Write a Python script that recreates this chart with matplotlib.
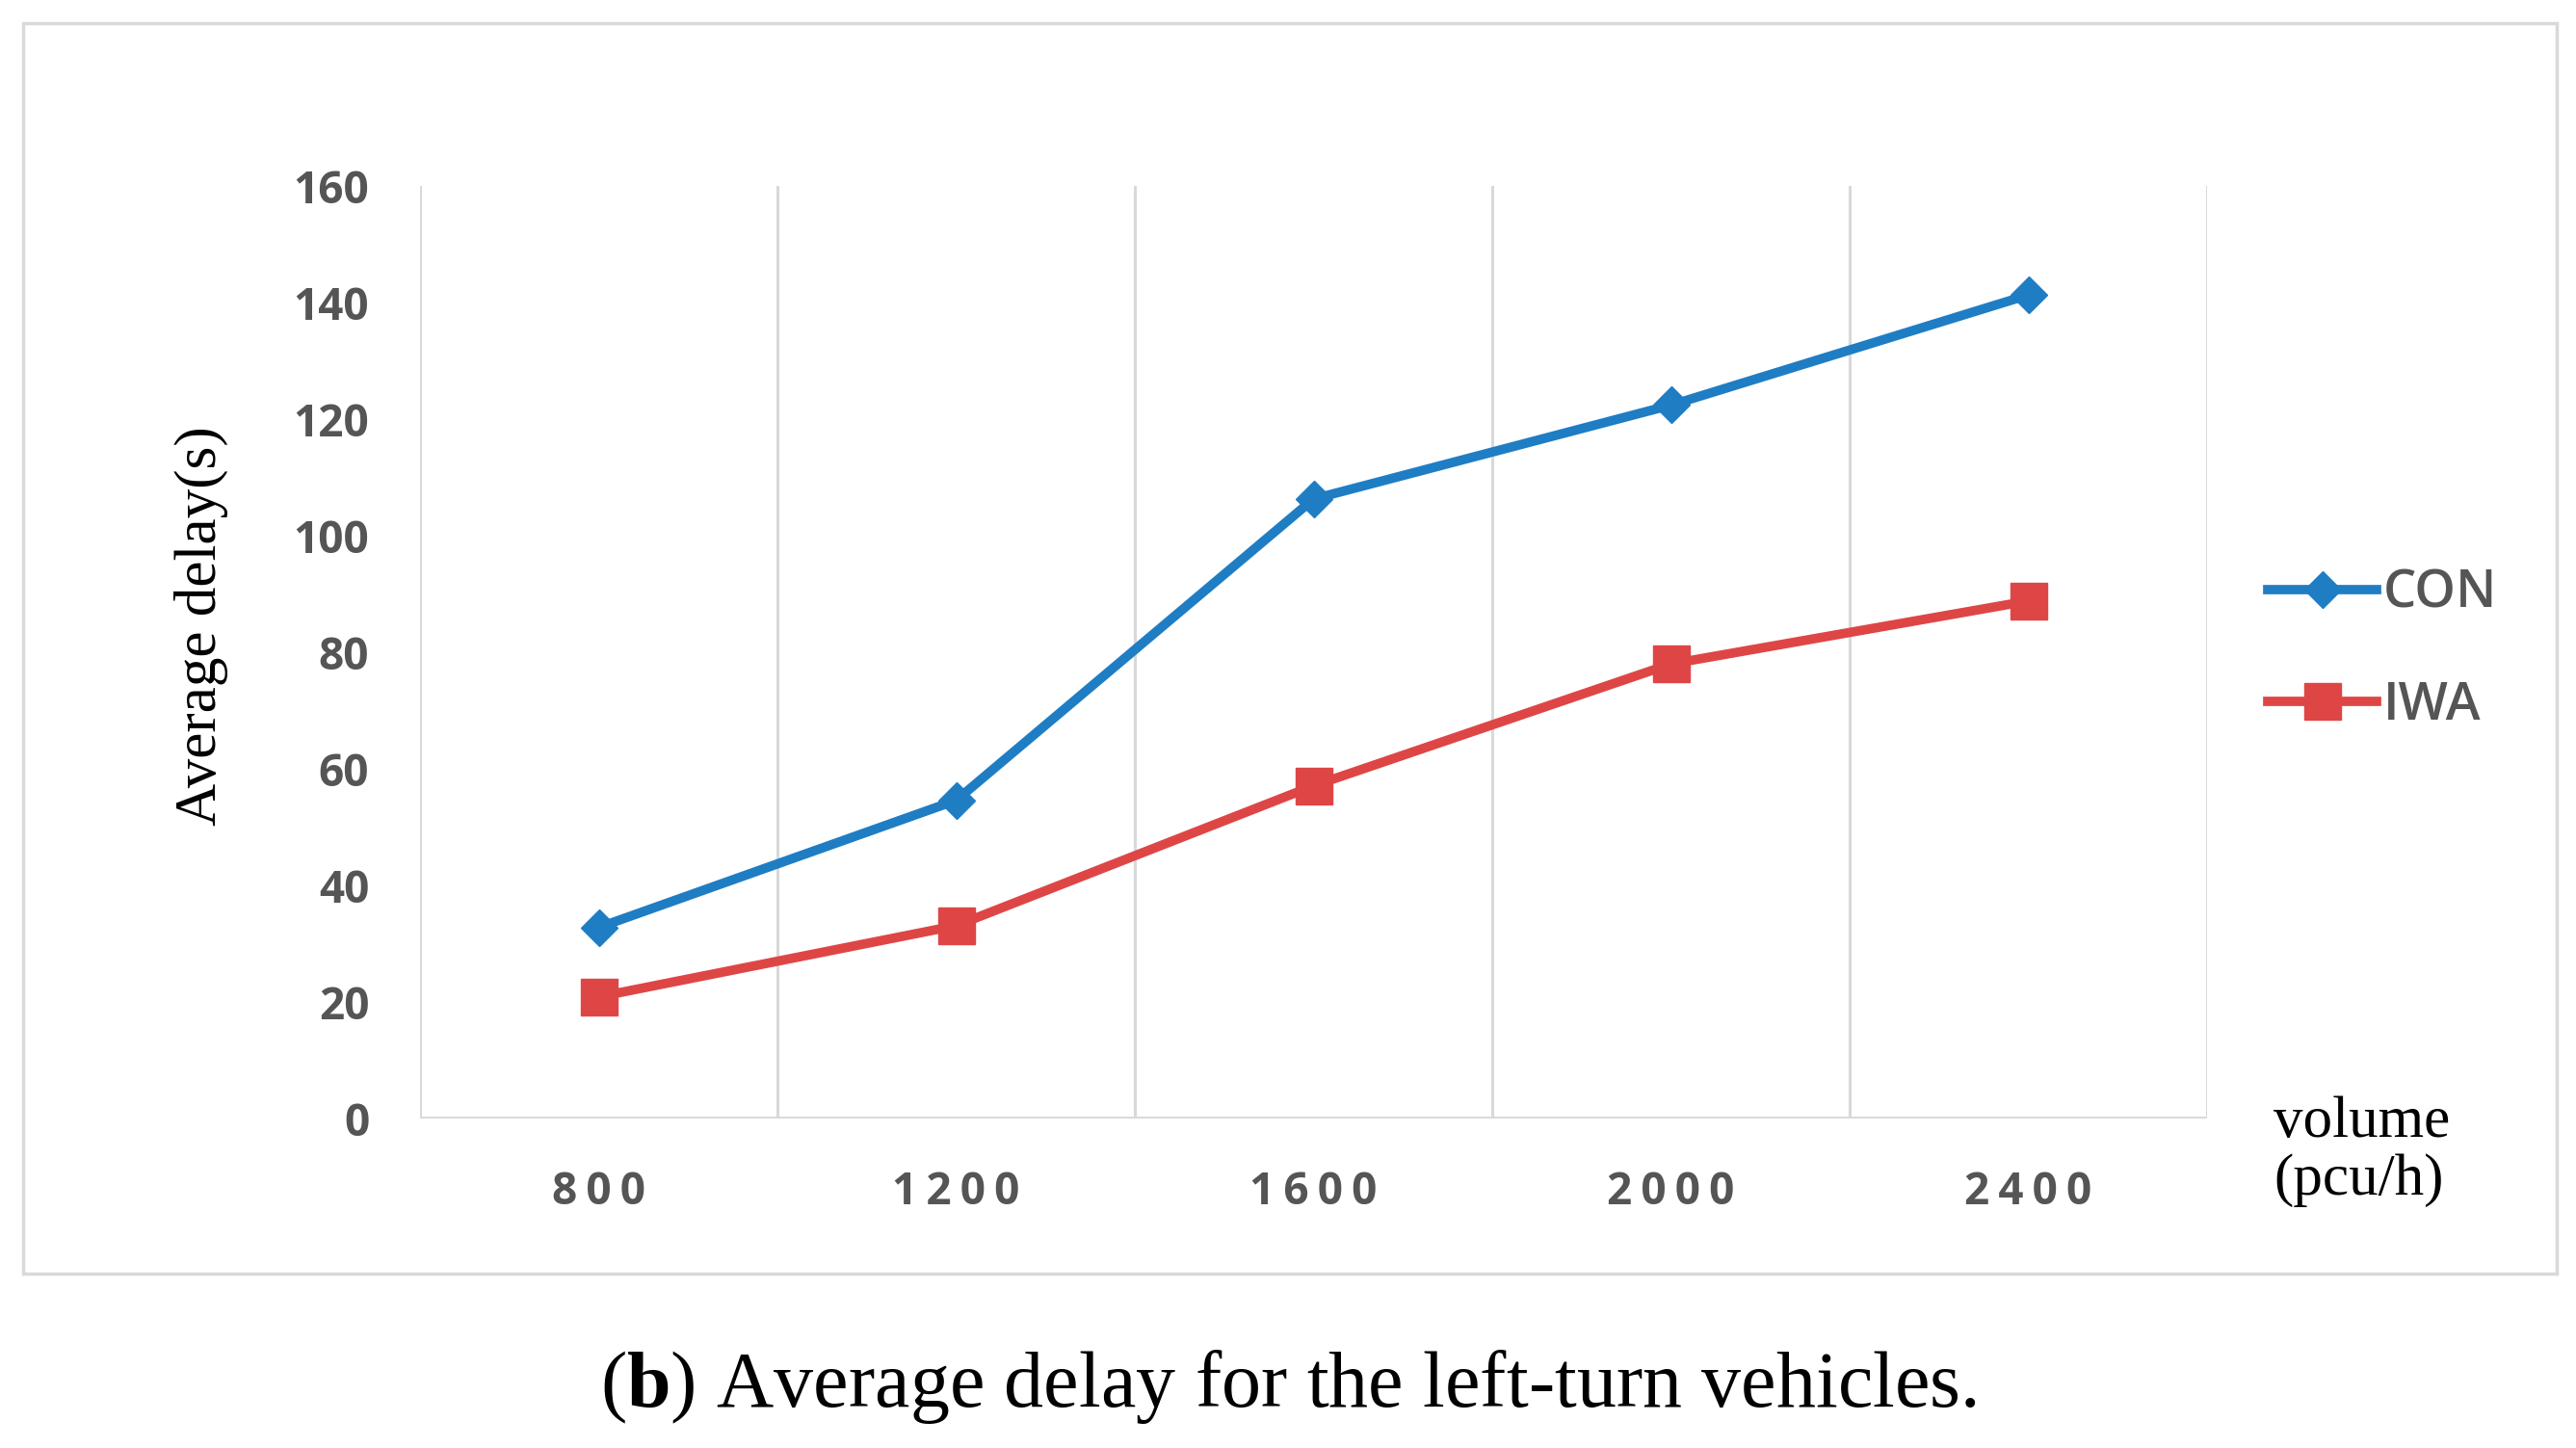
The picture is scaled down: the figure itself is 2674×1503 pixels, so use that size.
import numpy as np
import matplotlib
matplotlib.use('Agg')
import matplotlib.pyplot as plt
from matplotlib.patches import Rectangle

# data
volume = ['800', '1200', '1600', '2000', '2400']
con = [32.8, 54.6, 106.3, 122.4, 141.3]
iwa = [20.9, 33.1, 57.1, 78.0, 88.8]
yticks = [0, 20, 40, 60, 80, 100, 120, 140, 160]

plt.rcParams['mathtext.fontset'] = 'custom'
plt.rcParams['mathtext.rm'] = 'Liberation Serif'
plt.rcParams['mathtext.bf'] = 'Liberation Serif:bold'

blue = '#1f7dc4'
red = '#de4646'
grid_c = '#d9d9d9'
tick_c = '#555555'

fig = plt.figure(figsize=(26.74, 15.03), dpi=100)
ax = fig.add_axes([0.1631, 0.2275, 0.8568 - 0.1631, 0.8716 - 0.2275])

x = np.arange(len(volume))
ax.plot(x, con, color=blue, lw=7, marker='D', markersize=19, label='CON', zorder=3)
ax.plot(x, iwa, color=red, lw=7, marker='s', markersize=28, label='IWA', zorder=3)

ax.set_xlim(-0.5, len(volume) - 0.5)
ax.set_ylim(0, 160)
for gx in np.arange(-0.5, len(volume), 1.0):
    ax.axvline(gx, color=grid_c, lw=2.2, zorder=1)
ax.axhline(0, color=grid_c, lw=3.5, zorder=2)
for s in ax.spines.values():
    s.set_visible(False)

# spread out the x labels a little, like the original
ax.set_xticks(x)
ax.set_xticklabels(['\u2009'.join(v) for v in volume])
ax.set_yticks(yticks)
ax.tick_params(length=0, colors=tick_c, labelsize=33)
ax.tick_params(axis='y', pad=38)
ax.tick_params(axis='x', pad=38)
for lab in ax.get_xticklabels() + ax.get_yticklabels():
    lab.set_fontfamily(['Open Sans', 'DejaVu Sans'])
    lab.set_fontweight('bold')

leg = ax.legend(loc='center left', bbox_to_anchor=(0.862, 0.551), bbox_transform=fig.transFigure,
                frameon=False, handlelength=2.1, handletextpad=0.12, labelspacing=1.15,
                prop={'family': 'Open Sans', 'size': 39, 'weight': 'semibold'})
for t in leg.get_texts():
    t.set_color(tick_c)

fig.text(0.078, 0.5675, 'Average delay(s)', rotation=90, ha='center', va='center',
         family='Liberation Serif', fontsize=44)
fig.text(0.8826, 0.205, 'volume\n(pcu/h)', ha='left', va='center', linespacing=1.1,
         family='Liberation Serif', fontsize=44)
fig.text(0.5, 0.042, r'($\mathbf{b}$) Average delay for the left-turn vehicles.', ha='center', va='center',
         family='Liberation Serif', fontsize=59)

fig.patches.append(Rectangle((24 / 2674, 1 - 1322 / 1503), 2630 / 2674, 1298 / 1503,
                             transform=fig.transFigure, fill=False, edgecolor=grid_c, lw=2.5))

fig.savefig('out.png', dpi=100)
